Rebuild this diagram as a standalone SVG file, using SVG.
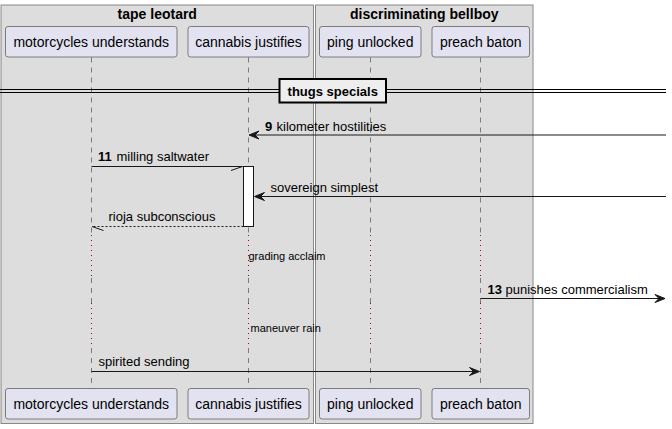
<svg xmlns="http://www.w3.org/2000/svg" width="672" height="429" viewBox="0 0 672 429">
<style>
text{font-family:"Liberation Sans",Arial,sans-serif;fill:#000}
.grp{fill:#DDDDDD;stroke:#888888;stroke-width:1}
.gt{font-size:14px;font-weight:bold;text-anchor:middle}
.pb{fill:#E2E2F0;stroke:#181818;stroke-width:0.5}
.pt{font-size:14px;text-anchor:middle}
.life{stroke:#181818;stroke-width:0.5;stroke-dasharray:5,5;fill:none}
.delay{stroke:#A80036;stroke-width:1;stroke-dasharray:1,4;fill:none}
.msg{stroke:#181818;stroke-width:1;fill:none}
.ret{stroke:#181818;stroke-width:1;stroke-dasharray:2,2;fill:none}
.ah{fill:#181818;stroke:#181818;stroke-width:1}
.mt{font-size:13px}
.num{font-size:13px;font-weight:bold}
.dt{font-size:11px}
</style>
<g id="group-tape-leotard">
<rect class="grp" x="1" y="5" width="312.5" height="418.5"/>
<text class="gt" x="157.25" y="19">tape leotard</text>
</g>
<g id="group-discriminating-bellboy">
<rect class="grp" x="315.5" y="5" width="217.5" height="418.5"/>
<text class="gt" x="424.25" y="19">discriminating bellboy</text>
</g>
<g id="lifelines">
<path class="life" d="M91.5,57.5V235M91.5,278V303M91.5,348V388.5"/>
<path class="delay" d="M91.5,235V278M91.5,303V348"/>
<path class="life" d="M248.5,57.5V235M248.5,278V303M248.5,348V388.5"/>
<path class="delay" d="M248.5,235V278M248.5,303V348"/>
<path class="life" d="M370.5,57.5V235M370.5,278V303M370.5,348V388.5"/>
<path class="delay" d="M370.5,235V278M370.5,303V348"/>
<path class="life" d="M480.5,57.5V235M480.5,278V303M480.5,348V388.5"/>
<path class="delay" d="M480.5,235V278M480.5,303V348"/>
</g>
<g id="separator">
<line x1="0" y1="89.5" x2="666" y2="89.5" stroke="#000" stroke-width="1"/>
<line x1="0" y1="92.5" x2="666" y2="92.5" stroke="#000" stroke-width="1"/>
<rect x="279.5" y="79" width="106.5" height="23.5" fill="#EEEEEE" stroke="#000" stroke-width="2"/>
<text class="num" x="332.75" y="95.5" text-anchor="middle">thugs specials</text>
</g>
<g id="p-motorcycles-understands">
<rect class="pb" x="5.5" y="26.5" width="171.5" height="30.5" rx="2.5"/>
<text class="pt" x="91.25" y="46.5">motorcycles understands</text>
<rect class="pb" x="5.5" y="388.5" width="171.5" height="30.5" rx="2.5"/>
<text class="pt" x="91.25" y="408.5">motorcycles understands</text>
</g>
<g id="p-cannabis-justifies">
<rect class="pb" x="188" y="26.5" width="121" height="30.5" rx="2.5"/>
<text class="pt" x="248.5" y="46.5">cannabis justifies</text>
<rect class="pb" x="188" y="388.5" width="121" height="30.5" rx="2.5"/>
<text class="pt" x="248.5" y="408.5">cannabis justifies</text>
</g>
<g id="p-ping-unlocked">
<rect class="pb" x="319.5" y="26.5" width="101.5" height="30.5" rx="2.5"/>
<text class="pt" x="370.25" y="46.5">ping unlocked</text>
<rect class="pb" x="319.5" y="388.5" width="101.5" height="30.5" rx="2.5"/>
<text class="pt" x="370.25" y="408.5">ping unlocked</text>
</g>
<g id="p-preach-baton">
<rect class="pb" x="432" y="26.5" width="97.5" height="30.5" rx="2.5"/>
<text class="pt" x="480.75" y="46.5">preach baton</text>
<rect class="pb" x="432" y="388.5" width="97.5" height="30.5" rx="2.5"/>
<text class="pt" x="480.75" y="408.5">preach baton</text>
</g>
<g id="activation">
<rect x="243.5" y="166.5" width="10" height="60" fill="#FFFFFF" stroke="#181818" stroke-width="1"/>
</g>
<g id="connectors">
<line class="msg" x1="251" y1="135" x2="666" y2="135"/>
<polygon class="ah" points="259,131 249,135 259,139 255,135"/>
<text class="num" x="265" y="130.5">9</text>
<text class="mt" x="276.5" y="130.5">kilometer hostilities</text>

<line class="msg" x1="91.5" y1="166.5" x2="242.5" y2="166.5"/>
<line class="msg" x1="231" y1="170.5" x2="242.5" y2="166.5"/>
<text class="num" x="98" y="161">11</text>
<text class="mt" x="116.5" y="161">milling saltwater</text>

<line class="msg" x1="256" y1="196.5" x2="666" y2="196.5"/>
<polygon class="ah" points="264.5,192.5 254.5,196.5 264.5,200.5 260.5,196.5"/>
<text class="mt" x="270.5" y="191.5">sovereign simplest</text>

<line class="ret" x1="243.5" y1="226.5" x2="92" y2="226.5"/>
<line class="msg" x1="92" y1="226.5" x2="103.5" y2="230.5"/>
<text class="mt" x="108.5" y="221">rioja subconscious</text>

<text class="dt" x="248.5" y="259.5">grading acclaim</text>

<line class="msg" x1="480.5" y1="298.5" x2="663" y2="298.5"/>
<polygon class="ah" points="655,294.5 665,298.5 655,302.5 659,298.5"/>
<text class="num" x="487.5" y="293.5">13</text>
<text class="mt" x="505.5" y="293.5">punishes commercialism</text>

<text class="dt" x="250.5" y="331.5">maneuver rain</text>

<line class="msg" x1="91.5" y1="371.5" x2="477" y2="371.5"/>
<polygon class="ah" points="469.5,367.5 479.5,371.5 469.5,375.5 473.5,371.5"/>
<text class="mt" x="98.5" y="366">spirited sending</text>
</g>
</svg>
